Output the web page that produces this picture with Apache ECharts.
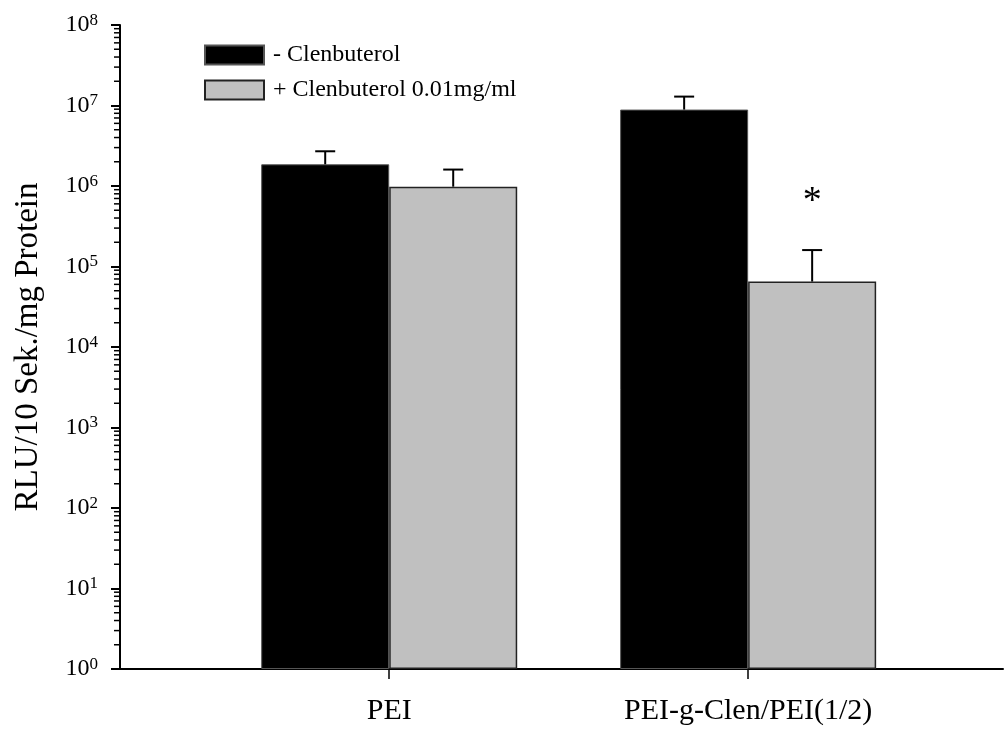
<!DOCTYPE html>
<html>
<head>
<meta charset="utf-8">
<script src="https://cdn.jsdelivr.net/npm/echarts@6/dist/echarts.min.js"></script>
<style>
  html, body { margin: 0; padding: 0; background: #fff; }
  #chart { width: 1005px; height: 729px; }
</style>
</head>
<body>
<div id="chart"></div>
<script>
// categories sit at x = 1, 2 on a value axis
var categories = ['PEI', 'PEI-g-Clen/PEI(1/2)'];
var seriesNames = ['- Clenbuterol', '+ Clenbuterol 0.01mg/ml'];
var withoutClen = [1.86e6, 8.9e6];
var withoutClenErr = [2.7e6, 1.29e7];   // top of error bar
var withClen = [9.8e5, 6.5e4];
var withClenErr = [1.6e6, 1.6e5];
var starAt = [null, 6.4e5];            // significance mark over + Clenbuterol bar
var minorTicks = [];
for (var e = 0; e < 8; e++) {
  for (var m = 2; m <= 9; m++) minorTicks.push(m * Math.pow(10, e));
}

var FONT = '"Liberation Serif", "DejaVu Serif", serif';
var BAR_W = 128;

var chart = echarts.init(document.getElementById('chart'));

function errRender(side) {
  return function (params, api) {
    var x = api.value(0);
    var top = api.coord([x, api.value(2)]);
    var base = api.coord([x, api.value(1)]);
    var cx = base[0] + side * BAR_W / 2;
    return {
      type: 'group',
      children: [
        { type: 'line', shape: { x1: cx, y1: base[1], x2: cx, y2: top[1] },
          style: { stroke: '#000', lineWidth: 2 } },
        { type: 'line', shape: { x1: cx - 10, y1: top[1], x2: cx + 10, y2: top[1] },
          style: { stroke: '#000', lineWidth: 2 } }
      ]
    };
  };
}

var option = {
  animation: false,
  backgroundColor: '#fff',
  textStyle: { fontFamily: FONT },
  grid: { left: 120, right: 2, top: 25, bottom: 60, outerBoundsMode: 'none' },
  legend: {
    data: seriesNames,
    orient: 'vertical',
    left: 204,
    top: 43,
    padding: 0,
    itemWidth: 59,
    itemHeight: 19,
    itemGap: 11,
    icon: 'rect',
    textStyle: { fontFamily: FONT, fontSize: 24, color: '#000', padding: [0, 0, 0, 4] }
  },
  xAxis: {
    type: 'value',
    min: 0.25,
    max: 2.71,
    splitLine: { show: false },
    axisLine: { lineStyle: { color: '#000', width: 2 } },
    axisTick: { customValues: [1, 2], length: 10, lineStyle: { color: '#000', width: 1.5 } },
    axisLabel: {
      customValues: [1, 2],
      margin: 27,
      fontFamily: FONT,
      fontSize: 30,
      color: '#000',
      formatter: function (v) { return categories[Math.round(v) - 1]; }
    }
  },
  yAxis: {
    type: 'log',
    logBase: 10,
    min: 1,
    max: 1e8,
    interval: 1,
    name: 'RLU/10 Sek./mg Protein',
    nameLocation: 'middle',
    nameGap: 75,
    nameMoveOverlap: false,
    nameTextStyle: { fontFamily: FONT, fontSize: 33, color: '#000' },
    splitLine: { show: false },
    axisLine: { show: true, lineStyle: { color: '#000', width: 2 } },
    axisTick: { length: 9, lineStyle: { color: '#000', width: 2 } },
    axisLabel: {
      margin: 22,
      color: '#000',
      formatter: function (v) {
        return '{b|10}{s|' + Math.round(Math.log10(v)) + '}';
      },
      rich: {
        b: { fontFamily: FONT, fontSize: 24, color: '#000' },
        s: { fontFamily: FONT, fontSize: 17, color: '#000', padding: [0, 0, 9, 0] }
      }
    }
  },
  series: [
    {
      name: seriesNames[0],
      type: 'bar',
      barWidth: BAR_W,
      barGap: '0%',
      data: withoutClen.map(function (v, i) { return [i + 1, v]; }),
      itemStyle: { color: '#000', borderColor: '#555', borderWidth: 1 }
    },
    {
      name: seriesNames[1],
      type: 'bar',
      barWidth: BAR_W,
      barGap: '0%',
      data: withClen.map(function (v, i) { return [i + 1, v]; }),
      itemStyle: { color: '#c0c0c0', borderColor: '#222', borderWidth: 1.5 }
    },
    {
      type: 'custom',
      clip: false,
      z: 3,
      data: withoutClen.map(function (v, i) { return [i + 1, v, withoutClenErr[i]]; }),
      renderItem: errRender(-1)
    },
    {
      type: 'custom',
      clip: false,
      z: 3,
      data: withClen.map(function (v, i) { return [i + 1, v, withClenErr[i]]; }),
      renderItem: errRender(1)
    },
    {
      type: 'custom',
      clip: false,
      z: 3,
      data: starAt.map(function (v, i) { return [i + 1, v]; }).filter(function (d) { return d[1] != null; }),
      renderItem: function (params, api) {
        var p = api.coord([api.value(0), api.value(1)]);
        return {
          type: 'text',
          x: p[0] + BAR_W / 2,
          y: p[1],
          style: { text: '*', fontFamily: FONT, fontSize: 38, fill: '#000', align: 'center', verticalAlign: 'middle' }
        };
      }
    },
    {
      // minor ticks of the log axis
      type: 'custom',
      clip: false,
      z: 3,
      data: minorTicks.map(function (v) { return [0.25, v]; }),
      renderItem: function (params, api) {
        var p = api.coord([api.value(0), api.value(1)]);
        return {
          type: 'line',
          shape: { x1: p[0] - 6, y1: p[1], x2: p[0], y2: p[1] },
          style: { stroke: '#000', lineWidth: 1.5 }
        };
      }
    }
  ]
};

chart.setOption(option);
</script>
</body>
</html>
